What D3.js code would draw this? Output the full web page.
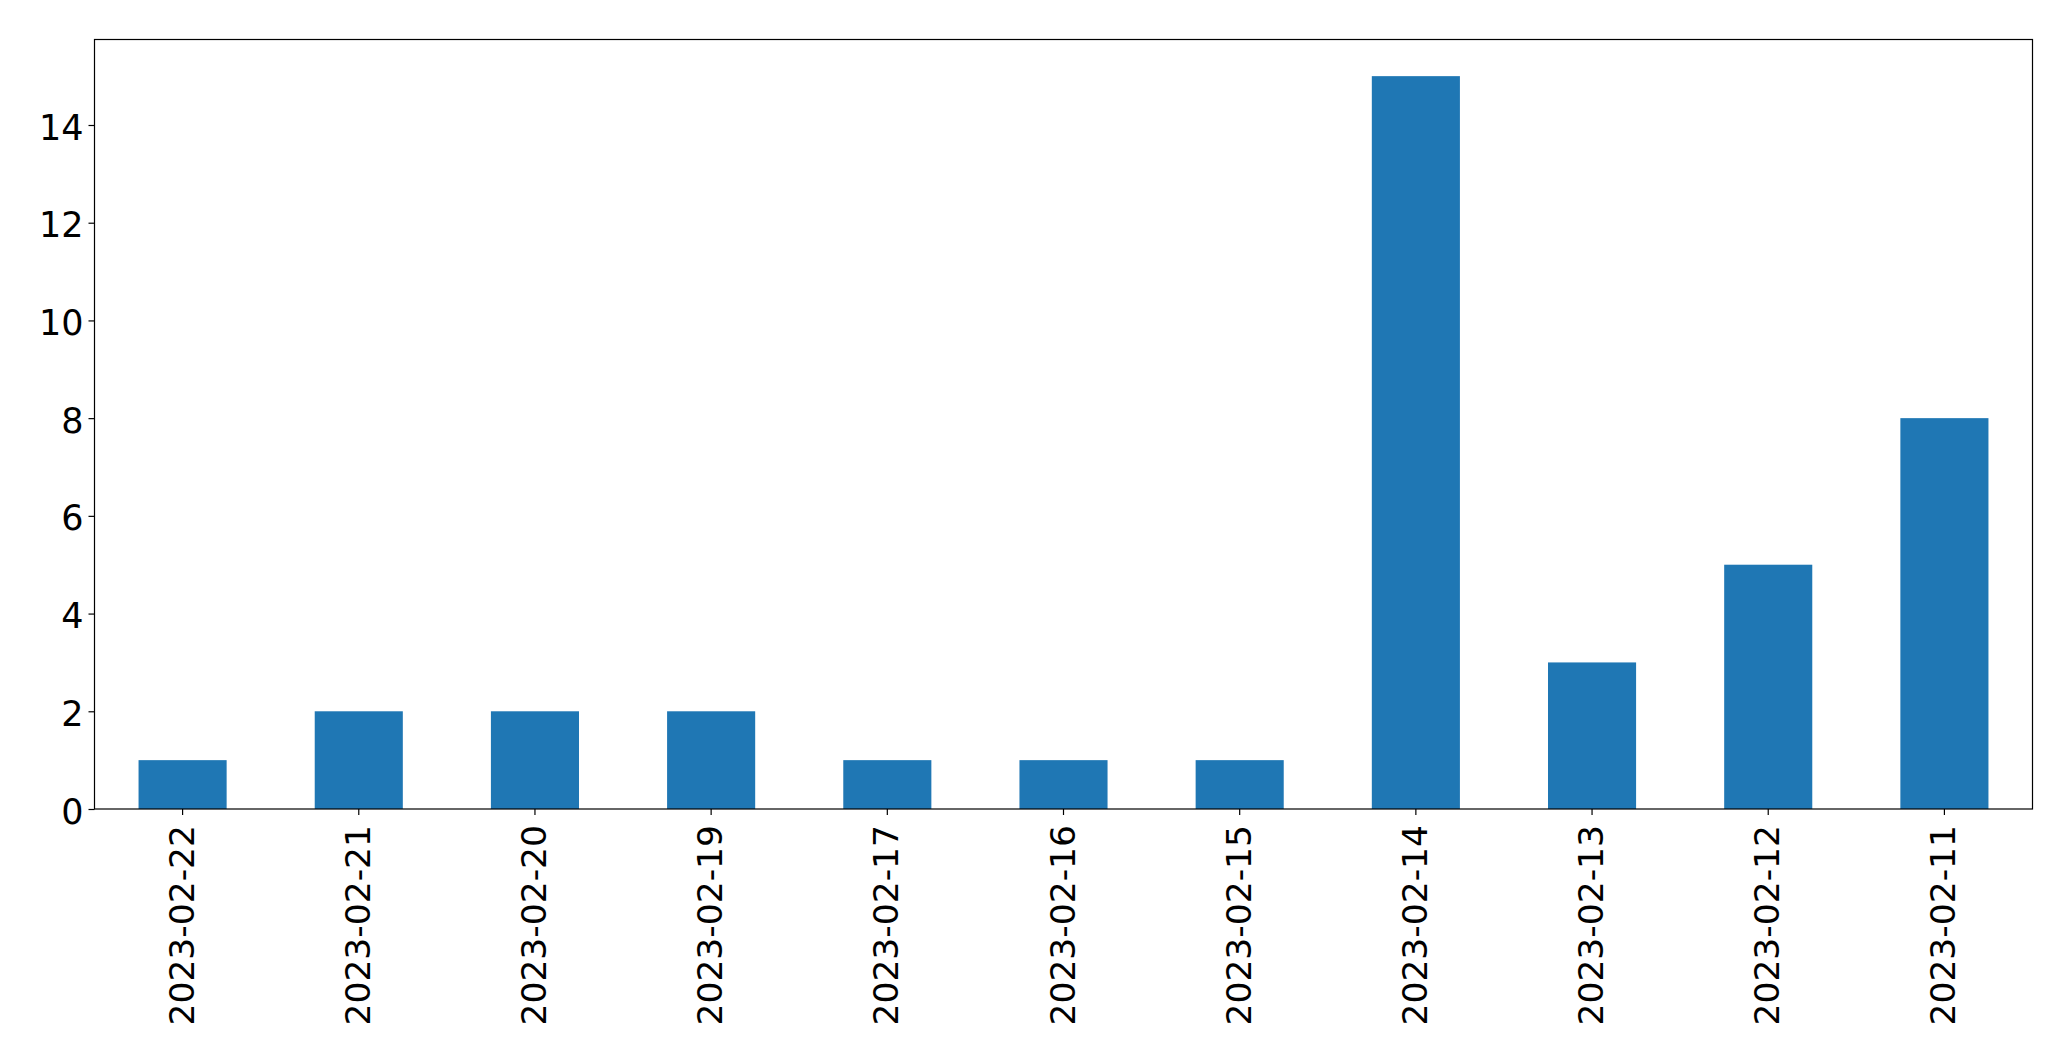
<!DOCTYPE html>
<html>
<head>
<meta charset="utf-8">
<script src="https://cdn.jsdelivr.net/npm/d3@7"></script>
<style>
  body { margin: 0; background: #fff; }
  text { font-family: "DejaVu Sans", sans-serif; fill: #000; }
</style>
</head>
<body>
<div id="chart"></div>
<script>
const categories = ["2023-02-22","2023-02-21","2023-02-20","2023-02-19","2023-02-17","2023-02-16","2023-02-15","2023-02-14","2023-02-13","2023-02-12","2023-02-11"];
const values = [1, 2, 2, 2, 1, 1, 1, 15, 3, 5, 8];
const yTicks = [0, 2, 4, 6, 8, 10, 12, 14];

(function () {
const W = 2071, H = 1061;
const mLeft = 94.5, mRight = 2032.5, mTop = 39.5, mBottom = 809;
const fontSize = 35;

const svg = d3.select("#chart").append("svg")
  .attr("width", W).attr("height", H);

const x = d3.scaleBand().domain(categories).range([mLeft, mRight]).paddingInner(0.5).paddingOuter(0.25);
const y = d3.scaleLinear().domain([0, 15.75]).range([mBottom, mTop]);

svg.append("g").selectAll("rect").data(values).join("rect")
  .attr("x", (d, i) => x(categories[i]))
  .attr("width", x.bandwidth())
  .attr("y", d => y(d))
  .attr("height", d => y(0) - y(d))
  .attr("fill", "#1f77b4");

// frame
svg.append("rect")
  .attr("x", mLeft).attr("y", mTop)
  .attr("width", mRight - mLeft).attr("height", mBottom - mTop)
  .attr("fill", "none").attr("stroke", "#000").attr("stroke-width", 1.2);

// y axis
const yAxis = d3.axisLeft(y).tickValues(yTicks).tickSize(6).tickPadding(6).tickFormat(d3.format("d"));
const gy = svg.append("g").attr("transform", `translate(${mLeft},0)`).call(yAxis);
gy.select(".domain").remove();
gy.selectAll(".tick line").attr("stroke", "#000").attr("stroke-width", 1.2);
gy.selectAll(".tick text")
  .attr("font-size", fontSize)
  .attr("font-family", "DejaVu Sans")
  .attr("fill", "#000")
  .attr("x", -11)
  .attr("dy", null)
  .attr("y", 2)
  .attr("dominant-baseline", "central");

// x axis
const xAxis = d3.axisBottom(x).tickSize(6).tickPadding(0);
const gx = svg.append("g").attr("transform", `translate(0,${mBottom})`).call(xAxis);
gx.select(".domain").remove();
gx.selectAll(".tick line").attr("stroke", "#000").attr("stroke-width", 1.2);
gx.selectAll(".tick text")
  .attr("font-size", 34.5)
  .attr("font-family", "DejaVu Sans")
  .attr("fill", "#000")
  .attr("y", null).attr("dy", null)
  .attr("x", null)
  .attr("text-anchor", "end")
  .attr("dominant-baseline", "central")
  .attr("transform", "translate(-1,16) rotate(-90)");
})();
</script>
</body>
</html>
